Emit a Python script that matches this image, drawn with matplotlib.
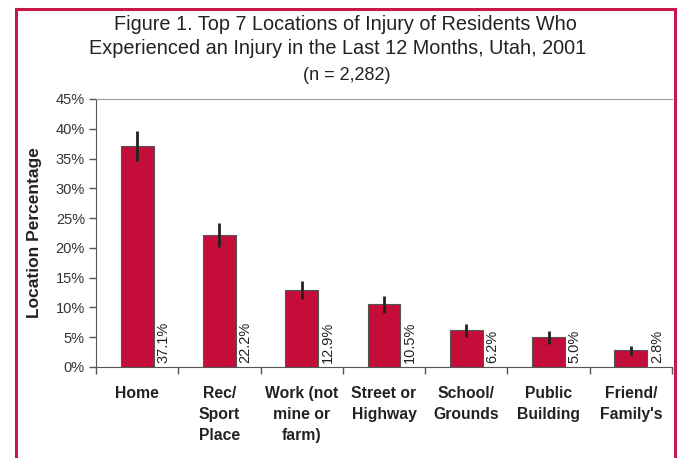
import matplotlib
matplotlib.use("Agg")
import matplotlib.pyplot as plt
from matplotlib.lines import Line2D

plt.rcParams['font.family'] = ['Liberation Sans', 'DejaVu Sans']

categories = ["Home", "Rec/\nSport\nPlace", "Work (not\nmine or\nfarm)", "Street or\nHighway",
              "School/\nGrounds", "Public\nBuilding", "Friend/\nFamily's"]
values = [37.1, 22.2, 12.9, 10.5, 6.2, 5.0, 2.8]
errors = [2.5, 2.0, 1.5, 1.4, 1.1, 1.1, 0.8]
value_labels = ["37.1%", "22.2%", "12.9%", "10.5%", "6.2%", "5.0%", "2.8%"]
yticks = [0, 5, 10, 15, 20, 25, 30, 35, 40, 45]

W, H = 678, 458
fig = plt.figure(figsize=(W / 100, H / 100), dpi=100)
ax = fig.add_axes([96 / W, 1 - 367 / H, (672 - 96) / W, (367 - 99) / H])

red = '#C50D3A'
x = list(range(len(values)))
ax.bar(x, values, width=0.4, color=red, edgecolor='#555555', linewidth=0.8, zorder=2)
ax.errorbar(x, values, yerr=errors, fmt='none', ecolor='#222222', elinewidth=2, capsize=0, zorder=3)

for xi, lab in zip(x, value_labels):
    ax.annotate(lab, xy=(xi + 0.2, 0), xytext=(2, 3), textcoords='offset points',
                rotation=90, ha='left', va='bottom', fontsize=10.5, color='#222222')

ax.set_xlim(-0.5, len(values) - 0.5)
ax.set_ylim(0, 45)
ax.set_yticks(yticks)
ax.set_yticklabels([f"{t}%" for t in yticks], fontsize=10.5, color='#333333')
ax.set_xticks([i + 0.5 for i in range(-1, len(values))])
ax.set_xticklabels([])
ax.tick_params(axis='x', length=5, direction='out', color='#555555', width=1)
ax.tick_params(axis='y', length=5, direction='out', color='#555555', width=1, pad=3)

for i, c in enumerate(categories):
    ax.text(i, -0.072, c, transform=ax.get_xaxis_transform(), ha='center', va='top',
            fontsize=11.3, fontweight='bold', color='#222222', linespacing=1.5)

ax.spines['right'].set_visible(False)
ax.spines['top'].set_color('#999999')
ax.spines['left'].set_color('#555555')
ax.spines['bottom'].set_color('#555555')
ax.spines['top'].set_linewidth(0.8)

ax.set_ylabel("Location Percentage", fontsize=12.5, fontweight='bold', color='#222222', labelpad=10)

fig.text(345 / W, 1 - 24 / H, "Figure 1. Top 7 Locations of Injury of Residents Who",
         ha='center', va='center', fontsize=14.3, color='#222222')
fig.text(338 / W, 1 - 49 / H, "Experienced an Injury in the Last 12 Months, Utah, 2001",
         ha='center', va='center', fontsize=14.3, color='#222222')
fig.text(347 / W, 1 - 75 / H, "(n = 2,282)", ha='center', va='center', fontsize=13, color='#222222')

# border
bc = '#C8174A'
fig.add_artist(Line2D([16 / W, 16 / W], [0, 1 - 9 / H], transform=fig.transFigure, color=bc, linewidth=2.2))
fig.add_artist(Line2D([16 / W, 675 / W], [1 - 9 / H, 1 - 9 / H], transform=fig.transFigure, color=bc, linewidth=2.2))
fig.add_artist(Line2D([675 / W, 675 / W], [0, 1 - 9 / H], transform=fig.transFigure, color=bc, linewidth=2.2))

fig.savefig("out.png", dpi=100)
